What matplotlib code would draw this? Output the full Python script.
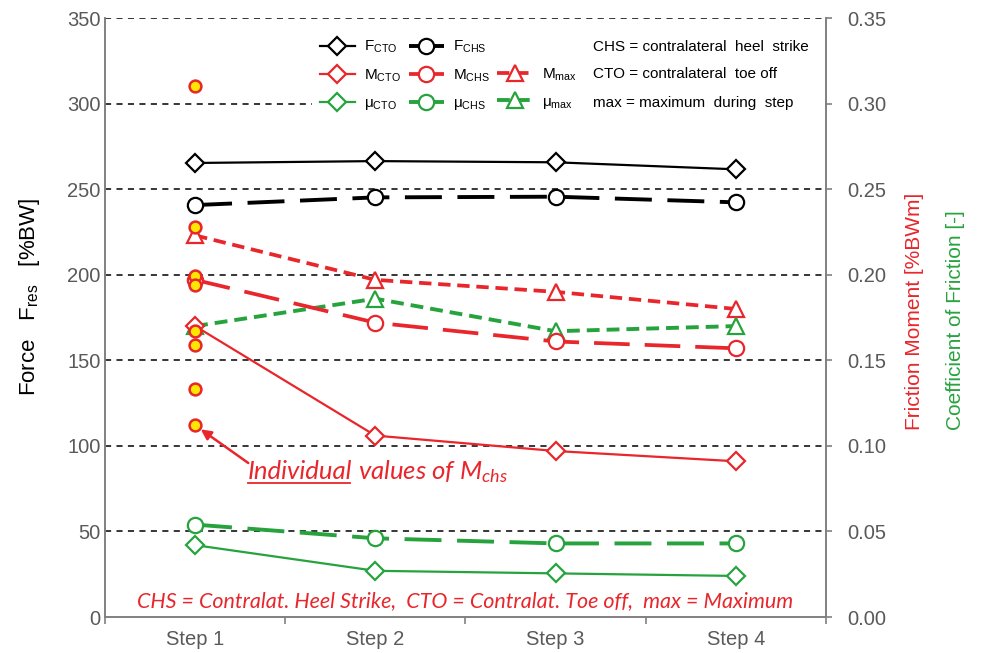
import matplotlib
matplotlib.use("Agg")
import matplotlib.pyplot as plt
from matplotlib.lines import Line2D
from matplotlib.patches import Rectangle
from matplotlib.text import Text
from matplotlib.transforms import IdentityTransform
from matplotlib.ticker import FixedLocator, FormatStrFormatter

plt.rcParams['font.family'] = ['Liberation Sans', 'DejaVu Sans']
plt.rcParams['mathtext.fontset'] = 'custom'
plt.rcParams['mathtext.rm'] = 'Liberation Sans'
plt.rcParams['mathtext.it'] = 'Lato:italic'

# --- data ---
steps = ['Step 1', 'Step 2', 'Step 3', 'Step 4']
f_cto = [265.3, 266.4, 265.7, 261.6]      # %BW
f_chs = [240.7, 245.2, 245.6, 242.3]      # %BW
m_cto = [0.170, 0.106, 0.097, 0.091]      # %BWm
m_chs = [0.197, 0.172, 0.161, 0.157]
m_max = [0.223, 0.197, 0.190, 0.180]
mu_cto = [0.042, 0.027, 0.0255, 0.024]    # -
mu_chs = [0.054, 0.046, 0.043, 0.043]
mu_max = [0.170, 0.186, 0.167, 0.170]
m_chs_individual = [0.310, 0.228, 0.199, 0.194, 0.167, 0.159, 0.133, 0.112]

left_ticks = [0, 50, 100, 150, 200, 250, 300, 350]
right_ticks = [0.00, 0.05, 0.10, 0.15, 0.20, 0.25, 0.30, 0.35]

RED = '#E8262B'
GREEN = '#27A33E'
GRAY = '#595959'

x = list(range(len(steps)))

fig = plt.figure(figsize=(9.81, 6.53), dpi=100)
ax = fig.add_axes([0.107, 0.0551, 0.735, 0.9173])
ax2 = ax.twinx()

# dashed horizontal grid
for v in left_ticks[1:]:
    ax.axhline(v, color='black', lw=1.1, ls=(0, (4, 3.5)), zorder=0)

ax.set_xlim(-0.5, 3.5)
ax.set_ylim(0, 350)
ax2.set_ylim(0, 0.35)

# white legend area hides the grid behind it
ax.add_patch(Rectangle((0.287, 0.84), 0.71, 0.13, transform=ax.transAxes,
                       facecolor='white', edgecolor='none', zorder=1))

mk = dict(markerfacecolor='white', markeredgewidth=1.6)
long_dash = (0, (9.5, 4))
short_dash = (0, (3.3, 1.8))

l_fcto, = ax.plot(x, f_cto, color='black', lw=1.6, marker='D', ms=9.5, **mk)
l_fchs, = ax.plot(x, f_chs, color='black', lw=2.8, ls=long_dash, marker='o', ms=11, **mk)

l_mmax, = ax2.plot(x, m_max, color=RED, lw=2.7, ls=short_dash, marker='^', ms=11, **mk)
l_mumax, = ax2.plot(x, mu_max, color=GREEN, lw=2.8, ls=short_dash, marker='^', ms=11, **mk)
l_mchs, = ax2.plot(x, m_chs, color=RED, lw=2.7, ls=long_dash, marker='o', ms=11, **mk)
l_mcto, = ax2.plot(x, m_cto, color=RED, lw=1.6, marker='D', ms=9.5, **mk)
l_much, = ax2.plot(x, mu_chs, color=GREEN, lw=2.8, ls=long_dash, marker='o', ms=11, **mk)
l_mucto, = ax2.plot(x, mu_cto, color=GREEN, lw=1.6, marker='D', ms=9.5, **mk)

# individual M_chs values at step 1
ax2.plot([x[0]] * len(m_chs_individual), m_chs_individual, ls='none', marker='o',
         ms=8.5, markerfacecolor='#FFE600', markeredgecolor=RED, markeredgewidth=1.8, zorder=5)

# axes styling
for a in (ax, ax2):
    for s in ['left', 'right', 'bottom']:
        a.spines[s].set_color('#808080')
        a.spines[s].set_linewidth(1.2)
    a.spines['top'].set_visible(False)

ax.yaxis.set_major_locator(FixedLocator(left_ticks))
ax.tick_params(axis='y', length=0, pad=3, labelsize=14.5, labelcolor=GRAY)
ax2.yaxis.set_major_locator(FixedLocator(right_ticks))
ax2.yaxis.set_major_formatter(FormatStrFormatter('%.2f'))
ax2.tick_params(axis='y', length=4, width=1.2, color='#808080', pad=11,
                labelsize=14.5, labelcolor=GRAY)

ax.set_xticks([-0.5, 0.5, 1.5, 2.5, 3.5])
ax.set_xticklabels([])
ax.tick_params(axis='x', which='major', length=5, width=1.2, color='#808080')
ax.set_xticks(x, minor=True)
ax.set_xticklabels(steps, minor=True)
ax.tick_params(axis='x', which='minor', length=0, pad=9, labelsize=14.5, labelcolor=GRAY)

# axis labels
fig.text(0.03, 0.545, 'Force   F$_{\\mathrm{res}}$   [%BW]', rotation=90, ha='center',
         va='center', fontsize=16, color='black')
fig.text(0.9327, 0.3415, 'Friction Moment [%BWm]', rotation=90, ha='center', va='bottom',
         fontsize=15, color=RED)
fig.text(0.9745, 0.3415, 'Coefficient of Friction [-]', rotation=90, ha='center', va='bottom',
         fontsize=15, color=GREEN)

# legend (three columns of handles) plus notes on the right
blank = Line2D([], [], color='none')
handles = [l_fcto, l_mcto, l_mucto, l_fchs, l_mchs, l_much, blank, l_mmax, l_mumax]
labels = ['F$_{\\mathrm{CTO}}$', 'M$_{\\mathrm{CTO}}$', 'μ$_{\\mathrm{CTO}}$',
          'F$_{\\mathrm{CHS}}$', 'M$_{\\mathrm{CHS}}$', 'μ$_{\\mathrm{CHS}}$',
          ' ', 'M$_{\\mathrm{max}}$', 'μ$_{\\mathrm{max}}$']
leg = ax2.legend(handles, labels, ncol=3, loc='upper left', bbox_to_anchor=(0.298, 0.965),
                 frameon=False, fontsize=11, handlelength=2.3, handletextpad=0.6,
                 columnspacing=0.5, labelspacing=0.8, borderpad=0, borderaxespad=0)
leg.set_zorder(10)
notes = ['CHS = contralateral  heel  strike', 'CTO = contralateral  toe off',
         'max = maximum  during  step']
for txt, note in zip(leg.get_texts()[6:9], notes):
    ax2.annotate(note, xy=(0.677, 0.5), xycoords=(ax2.transAxes, txt),
                 ha='left', va='center', fontsize=11, color='black')

# annotation for individual values
ann_y = 0.0805
t_ind = ax2.text(0.29, ann_y, 'Individual', fontsize=18.5, family='Lato', style='italic',
                 color=RED, ha='left', va='baseline')
ax2.annotate(' values of M$_{\\mathit{chs}}$', xy=(1, ann_y), xycoords=(t_ind, ax2.transData),
             fontsize=18.5, family='Lato', style='italic', color=RED, ha='left', va='baseline')
ax2.annotate('', xy=(x[0], m_chs_individual[-1]), xytext=(0.295, 0.090),
             arrowprops=dict(arrowstyle='-|>', color=RED, lw=1.8, mutation_scale=15,
                             shrinkA=0, shrinkB=5))

ax2.text(1.5, 0.006, 'CHS = Contralat. Heel Strike,  CTO = Contralat. Toe off,  max = Maximum',
         fontsize=15.5, family='Lato', style='italic', color=RED, ha='center', va='baseline')

# underline "Individual"
fig.canvas.draw()
bb = Text.get_window_extent(t_ind)
base_y = ax2.transData.transform((0, ann_y))[1]
fig.add_artist(Line2D([bb.x0 + 1, bb.x1 - 2], [base_y - 4, base_y - 4], color=RED, lw=1.3,
                      transform=IdentityTransform()))

fig.savefig('out.png', dpi=100)
